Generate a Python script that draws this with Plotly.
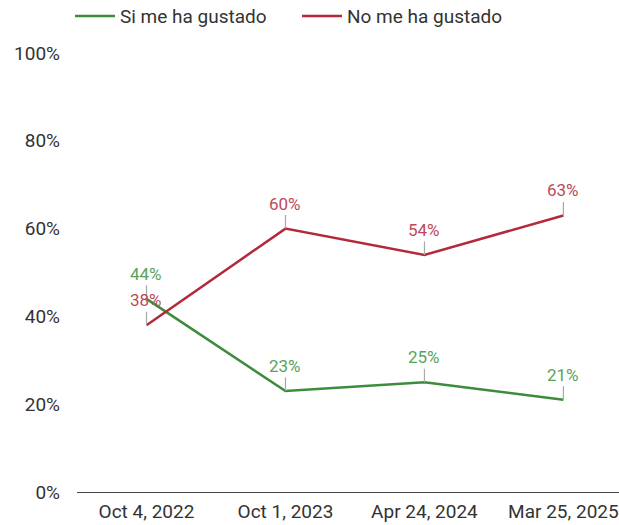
import plotly.graph_objects as go

dates = ["Oct 4, 2022", "Oct 1, 2023", "Apr 24, 2024", "Mar 25, 2025"]
si_values = [44, 23, 25, 21]
no_values = [38, 60, 54, 63]
y_ticks = [0, 20, 40, 60, 80, 100]
y_tick_labels = ["0%", "20%", "40%", "60%", "80%", "100%"]

green = "#3c8c3c"
red = "#b3293b"
green_txt = "#5aa35a"
red_txt = "#bd4a59"

fig = go.Figure()
fig.add_trace(go.Scatter(x=dates, y=si_values, mode="lines", name="Si me ha gustado",
                         line=dict(color=green, width=2.5)))
fig.add_trace(go.Scatter(x=dates, y=no_values, mode="lines", name="No me ha gustado",
                         line=dict(color=red, width=2.5)))

annotations = []
for vals, col in ((si_values, green_txt), (no_values, red_txt)):
    for d, v in zip(dates, vals):
        annotations.append(dict(x=d, y=v, xref="x", yref="y", text=f"{v}%",
                                showarrow=True, arrowhead=0, arrowwidth=1.2,
                                arrowcolor="#a8a8a8", ax=0, ay=-25, standoff=0,
                                font=dict(color=col, size=17, family="Roboto")))

fig.update_layout(
    width=619, height=525,
    margin=dict(l=77, r=0, t=53, b=33, autoexpand=False),
    paper_bgcolor="white", plot_bgcolor="white",
    font=dict(family="Roboto", size=19, color="#333333"),
    showlegend=True,
    legend=dict(orientation="h", xref="container", x=70 / 619, xanchor="left",
                y=1.084, yanchor="middle", itemwidth=40, entrywidth=172,
                font=dict(size=19, color="#333333"), traceorder="normal"),
    annotations=annotations,
    xaxis=dict(type="category", range=[-0.5, 3.4], showgrid=False, showline=True,
               linecolor="#444444", linewidth=1, ticks="", zeroline=False,
               automargin=False, ticklabelstandoff=2,
               tickfont=dict(size=19, color="#333333")),
    yaxis=dict(range=[0, 100], tickvals=y_ticks, ticktext=y_tick_labels,
               showgrid=False, zeroline=False, showline=False, automargin=False,
               ticks="", ticklabelstandoff=16,
               tickfont=dict(size=19, color="#333333")),
)

fig.write_html("out.html", config={"displayModeBar": False},
               post_script="document.body.style.margin='0';")
